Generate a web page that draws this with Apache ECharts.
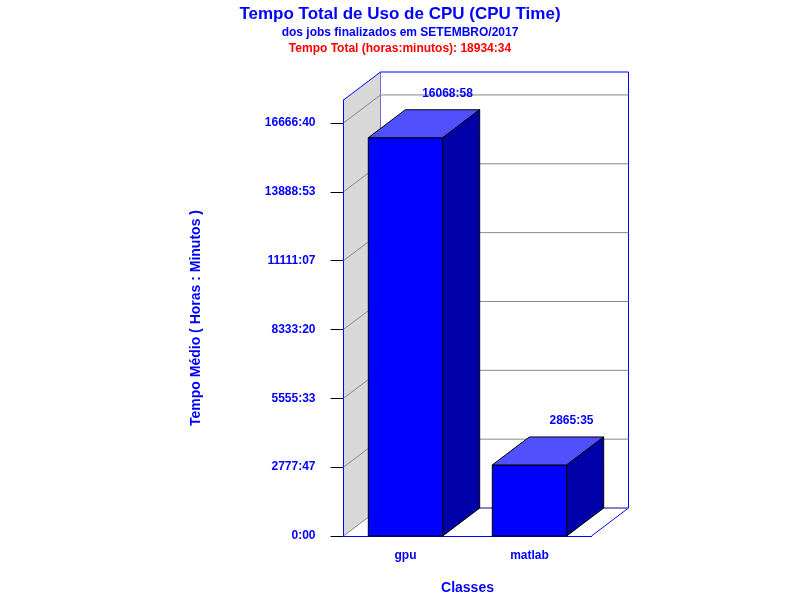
<!DOCTYPE html>
<html>
<head>
<meta charset="utf-8">
<title>Tempo Total de Uso de CPU</title>
<script src="https://cdn.jsdelivr.net/npm/echarts@6/dist/echarts.min.js"></script>
<style>html,body{margin:0;background:#fff}</style>
</head>
<body>
<div id="main" style="width:800px;height:600px;"></div>
<script>
// dados em minutos
var classes = ['gpu', 'matlab'];
var tempoMinutos = [964138, 171935];
var tickValues = [0, 166667, 333333, 500000, 666667, 833333, 1000000];

var DX = 37, DY = -28;
var font = 'Liberation Sans, Arial, sans-serif';

function hm(v) {
    var m = Math.round(v);
    var h = Math.floor(m / 60), r = m % 60;
    return h + ':' + (r < 10 ? '0' : '') + r;
}

var myChart = echarts.init(document.getElementById('main'));

var option = {
    animation: false,
    title: [
        {text: 'Tempo Total de Uso de CPU (CPU Time)', left: 'center', top: 1,
         textStyle: {color: '#0000ff', fontSize: 17, fontWeight: 'bold', fontFamily: font}},
        {text: 'dos jobs finalizados em SETEMBRO/2017', left: 'center', top: 22,
         textStyle: {color: '#0000ff', fontSize: 12, fontWeight: 'bold', fontFamily: font}},
        {text: 'Tempo Total (horas:minutos): 18934:34', left: 'center', top: 38,
         textStyle: {color: '#ff0000', fontSize: 12, fontWeight: 'bold', fontFamily: font}}
    ],
    grid: {left: 343.5, right: 208.5, top: 100, bottom: 63},
    xAxis: {
        type: 'category', data: classes,
        name: 'Classes', nameLocation: 'middle', nameGap: 45,
        nameTextStyle: {color: '#0000ff', fontSize: 14, fontWeight: 'bold', fontFamily: font},
        axisLine: {lineStyle: {color: '#0000ff'}},
        axisTick: {show: false},
        axisLabel: {color: '#0000ff', fontSize: 12, fontWeight: 'bold', fontFamily: font, margin: 14}
    },
    yAxis: {
        type: 'value', min: 0, max: 1055556, interval: 1000000 / 6,
        name: 'Tempo Médio ( Horas : Minutos )', nameLocation: 'middle', nameGap: 140,
        nameTextStyle: {color: '#0000ff', fontSize: 14, fontWeight: 'bold', fontFamily: font},
        axisLine: {show: true, lineStyle: {color: '#0000ff'}},
        axisTick: {show: true, length: 13, lineStyle: {color: '#000'}},
        splitLine: {show: false},
        axisLabel: {color: '#0000ff', fontSize: 12, fontWeight: 'bold', fontFamily: font, margin: 28,
                    showMaxLabel: false, formatter: hm}
    },
    series: [
        {
            type: 'custom', z: 1, silent: true, data: [0],
            renderItem: function (params, api) {
                var cs = params.coordSys;
                var x0 = cs.x, x1 = cs.x + cs.width, y0 = cs.y + cs.height, yt = cs.y;
                var ch = [
                    {type: 'polygon', shape: {points: [[x0 + DX, yt + DY], [x1 + DX, yt + DY], [x1 + DX, y0 + DY], [x0 + DX, y0 + DY]]},
                     style: {fill: '#fff', stroke: '#0000ff', lineWidth: 1}},
                    {type: 'polygon', shape: {points: [[x0, y0], [x0, yt], [x0 + DX, yt + DY], [x0 + DX, y0 + DY]]},
                     style: {fill: '#d8d8d8', stroke: null}},
                    {type: 'line', shape: {x1: x0, y1: yt, x2: x0 + DX, y2: yt + DY}, style: {stroke: '#0000ff'}},
                    {type: 'line', shape: {x1: x0, y1: yt, x2: x0, y2: y0}, style: {stroke: '#0000ff'}},
                    {type: 'line', shape: {x1: x1, y1: y0, x2: x1 + DX, y2: y0 + DY}, style: {stroke: '#0000ff'}}
                ];
                tickValues.forEach(function (t) {
                    var y = api.coord([0, t])[1];
                    ch.push({type: 'line', shape: {x1: x0, y1: y, x2: x0 + DX, y2: y + DY}, style: {stroke: '#888'}});
                    ch.push({type: 'line', shape: {x1: x0 + DX, y1: y + DY, x2: x1 + DX, y2: y + DY}, style: {stroke: '#888'}});
                });
                return {type: 'group', children: ch};
            }
        },
        {
            type: 'custom', z: 2, data: tempoMinutos.map(function (v, i) { return [i, v]; }),
            renderItem: function (params, api) {
                var top = api.coord([api.value(0), api.value(1)]);
                var bot = api.coord([api.value(0), 0]);
                var w = api.size([1, 0])[0] * 0.6;
                var l = top[0] - w / 2, r = top[0] + w / 2, ty = top[1], by = bot[1];
                return {type: 'group', children: [
                    {type: 'rect', shape: {x: l, y: ty, width: w, height: by - ty},
                     style: {fill: '#0000ff', stroke: '#000', lineWidth: 1}},
                    {type: 'polygon', shape: {points: [[l, ty], [l + DX, ty + DY], [r + DX, ty + DY], [r, ty]]},
                     style: {fill: '#5050ff', stroke: '#000', lineWidth: 1}},
                    {type: 'polygon', shape: {points: [[r, ty], [r + DX, ty + DY], [r + DX, by + DY], [r, by]]},
                     style: {fill: '#0000a8', stroke: '#000', lineWidth: 1}},
                    {type: 'text', style: {x: top[0] + 42, y: ty + DY - 10, text: hm(api.value(1)),
                     fill: '#0000ff', font: 'bold 12px ' + font, align: 'center', verticalAlign: 'bottom'}}
                ]};
            }
        }
    ]
};

myChart.setOption(option);
</script>
</body>
</html>
